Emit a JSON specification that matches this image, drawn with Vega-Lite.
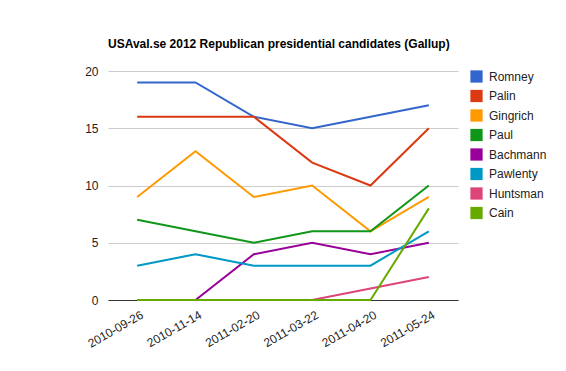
{
  "$schema": "https://vega.github.io/schema/vega-lite/v6.json",
  "width": 350,
  "height": 229,
  "autosize": "none",
  "padding": {"left": 108, "top": 71, "right": 108, "bottom": 71},
  "background": "white",
  "config": {"font": "Liberation Sans", "view": {"stroke": null}},
  "title": {"text": "USAval.se 2012 Republican presidential candidates (Gallup)", "anchor": "start", "frame": "group", "fontSize": 12, "fontWeight": "bold", "color": "#000", "offset": 14, "font": "Liberation Sans"},
  "data": {"values": [
    {"date": "2010-09-26", "c": "Romney", "v": 19}, {"date": "2010-11-14", "c": "Romney", "v": 19}, {"date": "2011-02-20", "c": "Romney", "v": 16}, {"date": "2011-03-22", "c": "Romney", "v": 15}, {"date": "2011-04-20", "c": "Romney", "v": 16}, {"date": "2011-05-24", "c": "Romney", "v": 17},
    {"date": "2010-09-26", "c": "Palin", "v": 16}, {"date": "2010-11-14", "c": "Palin", "v": 16}, {"date": "2011-02-20", "c": "Palin", "v": 16}, {"date": "2011-03-22", "c": "Palin", "v": 12}, {"date": "2011-04-20", "c": "Palin", "v": 10}, {"date": "2011-05-24", "c": "Palin", "v": 15},
    {"date": "2010-09-26", "c": "Gingrich", "v": 9}, {"date": "2010-11-14", "c": "Gingrich", "v": 13}, {"date": "2011-02-20", "c": "Gingrich", "v": 9}, {"date": "2011-03-22", "c": "Gingrich", "v": 10}, {"date": "2011-04-20", "c": "Gingrich", "v": 6}, {"date": "2011-05-24", "c": "Gingrich", "v": 9},
    {"date": "2010-09-26", "c": "Paul", "v": 7}, {"date": "2010-11-14", "c": "Paul", "v": 6}, {"date": "2011-02-20", "c": "Paul", "v": 5}, {"date": "2011-03-22", "c": "Paul", "v": 6}, {"date": "2011-04-20", "c": "Paul", "v": 6}, {"date": "2011-05-24", "c": "Paul", "v": 10},
    {"date": "2010-09-26", "c": "Bachmann", "v": 0}, {"date": "2010-11-14", "c": "Bachmann", "v": 0}, {"date": "2011-02-20", "c": "Bachmann", "v": 4}, {"date": "2011-03-22", "c": "Bachmann", "v": 5}, {"date": "2011-04-20", "c": "Bachmann", "v": 4}, {"date": "2011-05-24", "c": "Bachmann", "v": 5},
    {"date": "2010-09-26", "c": "Pawlenty", "v": 3}, {"date": "2010-11-14", "c": "Pawlenty", "v": 4}, {"date": "2011-02-20", "c": "Pawlenty", "v": 3}, {"date": "2011-03-22", "c": "Pawlenty", "v": 3}, {"date": "2011-04-20", "c": "Pawlenty", "v": 3}, {"date": "2011-05-24", "c": "Pawlenty", "v": 6},
    {"date": "2010-09-26", "c": "Huntsman", "v": 0}, {"date": "2010-11-14", "c": "Huntsman", "v": 0}, {"date": "2011-02-20", "c": "Huntsman", "v": 0}, {"date": "2011-03-22", "c": "Huntsman", "v": 0}, {"date": "2011-04-20", "c": "Huntsman", "v": 1}, {"date": "2011-05-24", "c": "Huntsman", "v": 2},
    {"date": "2010-09-26", "c": "Cain", "v": 0}, {"date": "2010-11-14", "c": "Cain", "v": 0}, {"date": "2011-02-20", "c": "Cain", "v": 0}, {"date": "2011-03-22", "c": "Cain", "v": 0}, {"date": "2011-04-20", "c": "Cain", "v": 0}, {"date": "2011-05-24", "c": "Cain", "v": 8}
  ]},
  "mark": {"type": "line", "strokeWidth": 2},
  "encoding": {
    "x": {"field": "date", "type": "ordinal", "title": null,
      "scale": {"type": "point", "padding": 0.5},
      "axis": {"labelAngle": -30, "labelAlign": "right", "labelBaseline": "top", "ticks": false, "labelPadding": 9, "domainColor": "#333", "domainWidth": 1, "labelFontSize": 12, "labelColor": "#222", "labelFont": "Liberation Sans", "labelOffset": 2}},
    "y": {"field": "v", "type": "quantitative", "title": null,
      "scale": {"domain": [0, 20], "nice": false},
      "axis": {"values": [0, 5, 10, 15, 20], "domain": false, "ticks": false, "gridColor": "#ccc", "labelPadding": 10, "labelFontSize": 12, "labelColor": "#222", "labelFont": "Liberation Sans"}},
    "color": {"field": "c", "type": "nominal", "title": null,
      "scale": {"domain": ["Romney", "Palin", "Gingrich", "Paul", "Bachmann", "Pawlenty", "Huntsman", "Cain"],
        "range": ["#3366cc", "#dc3912", "#ff9900", "#109618", "#990099", "#0099c6", "#dd4477", "#66aa00"]},
      "legend": {"orient": "none", "legendX": 362, "legendY": -1, "symbolType": "square", "symbolSize": 150, "symbolStrokeWidth": 0, "symbolOpacity": 1, "labelFontSize": 12, "labelColor": "#222", "labelFont": "Liberation Sans", "rowPadding": 6.5, "labelOffset": 6,
        "encode": {"symbols": {"update": {"fill": {"scale": "color", "field": "value"}, "strokeWidth": {"value": 0}}}}}}
  }
}
